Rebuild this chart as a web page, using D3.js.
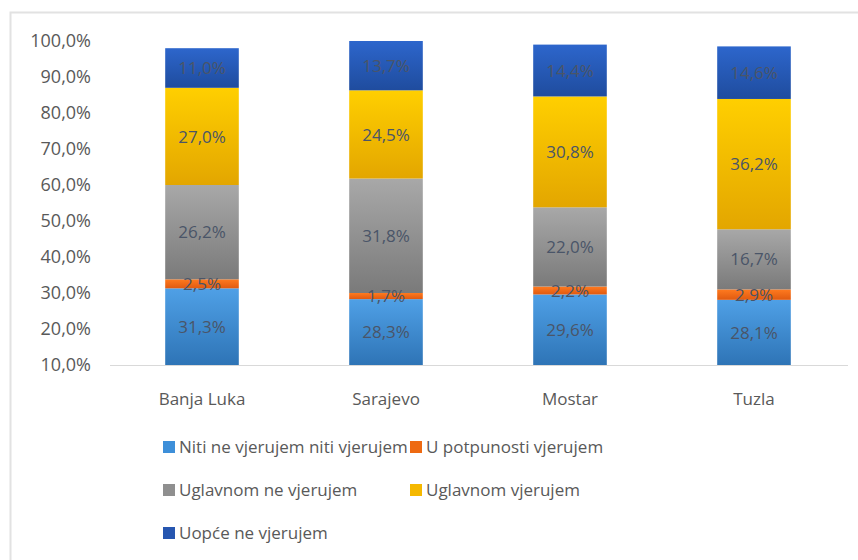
<!DOCTYPE html>
<html>
<head>
<meta charset="utf-8">
<script src="https://cdn.jsdelivr.net/npm/d3@7"></script>
<style>
    body { margin: 0; background: #fff; }
    text { font-family: "Open Sans", "Noto Sans", sans-serif; }
</style>
</head>
<body>
<div id="chart"></div>
<script>
// categories and series (percent)
let cities = ["Banja Luka", "Sarajevo", "Mostar", "Tuzla"];
let seriesNames = [
    "Niti ne vjerujem niti vjerujem",
    "U potpunosti vjerujem",
    "Uglavnom ne vjerujem",
    "Uglavnom vjerujem",
    "Uopće ne vjerujem"
];
let nitiNiti = [31.3, 28.3, 29.6, 28.1];
let uPotpunosti = [2.5, 1.7, 2.2, 2.9];
let uglavnomNe = [26.2, 31.8, 22.0, 16.7];
let uglavnomDa = [27.0, 24.5, 30.8, 36.2];
let uopceNe = [11.0, 13.7, 14.4, 14.6];
let yTicks = [10, 20, 30, 40, 50, 60, 70, 80, 90, 100];

let seriesValues = [nitiNiti, uPotpunosti, uglavnomNe, uglavnomDa, uopceNe];
// top / bottom gradient colours for each series
let colors = [
    ["#4fa0e6", "#2e74b6"],
    ["#ff7a1f", "#e05a10"],
    ["#a8a8a8", "#7a7a7a"],
    ["#ffcf00", "#e3a600"],
    ["#2d66cc", "#1f4c9e"]
];
let legendColors = ["#3d8fd9", "#ee6a12", "#8f8f8f", "#f5b800", "#2656b0"];

let width = 858, height = 560;

let svg = d3.select("#chart").append("svg")
    .attr("width", width)
    .attr("height", height);

// outer frame
svg.append("path")
    .attr("d", "M10.5," + height + "V12.5H" + width)
    .attr("fill", "none")
    .attr("stroke", "#e2e2e2")
    .attr("stroke-width", 2);

let x = d3.scaleBand()
    .domain(cities)
    .range([110, 846])
    .paddingInner(0.6)
    .paddingOuter(0.3);

let y = d3.scaleLinear()
    .domain([10, 100])
    .range([365, 41]);

// gradients
let defs = svg.append("defs");
colors.forEach(function (c, i) {
    let g = defs.append("linearGradient")
        .attr("id", "grad" + i)
        .attr("x1", 0).attr("y1", 0)
        .attr("x2", 0).attr("y2", 1);
    g.append("stop").attr("offset", "0%").attr("stop-color", c[0]);
    g.append("stop").attr("offset", "100%").attr("stop-color", c[1]);
});

// y axis labels
let yAxis = d3.axisLeft(y)
    .tickValues(yTicks)
    .tickSize(0)
    .tickPadding(0)
    .tickFormat(d => d3.format(".1f")(d).replace(".", ",") + "%");

svg.append("g")
    .attr("transform", "translate(91,0)")
    .call(yAxis)
    .call(g => g.select(".domain").remove())
    .selectAll("text")
    .attr("fill", "#595959")
    .style("font-size", "18px");

// stack data
let table = cities.map(function (c, i) {
    let row = { city: c };
    seriesNames.forEach(function (s, j) { row[s] = seriesValues[j][i]; });
    return row;
});
let stacked = d3.stack().keys(seriesNames)(table);

let fmt = v => d3.format(".1f")(v).replace(".", ",") + "%";

stacked.forEach(function (layer, li) {
    let g = svg.append("g").attr("class", "series");
    g.selectAll("rect")
        .data(layer)
        .enter().append("rect")
        .attr("x", d => x(d.data.city))
        .attr("width", x.bandwidth())
        .attr("y", d => y(d[1]))
        .attr("height", d => y(Math.max(d[0], 10)) - y(d[1]))
        .attr("fill", "url(#grad" + li + ")");
});

// baseline
svg.append("line")
    .attr("x1", 110).attr("x2", 848)
    .attr("y1", y(10) + 0.5).attr("y2", y(10) + 0.5)
    .attr("stroke", "#d9d9d9");

// value labels
stacked.forEach(function (layer, li) {
    svg.append("g").selectAll("text")
        .data(layer)
        .enter().append("text")
        .attr("x", d => x(d.data.city) + x.bandwidth() / 2)
        .attr("y", d => (y(Math.max(d[0], 10)) + y(d[1])) / 2)
        .attr("dy", "0.36em")
        .attr("text-anchor", "middle")
        .attr("fill", "#4a5568")
        .style("font-size", "17px")
        .text(d => fmt(d.data[seriesNames[li]]));
});

// category labels
svg.append("g").selectAll("text")
    .data(cities)
    .enter().append("text")
    .attr("x", d => x(d) + x.bandwidth() / 2)
    .attr("y", 399)
    .attr("dy", "0.36em")
    .attr("text-anchor", "middle")
    .attr("fill", "#595959")
    .style("font-size", "17px")
    .text(d => d);

// legend
let legendPos = [[163, 447], [410, 447], [163, 490], [410, 490], [163, 533]];
let legend = svg.append("g").selectAll("g")
    .data(seriesNames)
    .enter().append("g")
    .attr("transform", (d, i) => "translate(" + legendPos[i][0] + "," + legendPos[i][1] + ")");

legend.append("rect")
    .attr("x", 0).attr("y", -6)
    .attr("width", 12).attr("height", 12)
    .attr("fill", (d, i) => legendColors[i]);

legend.append("text")
    .attr("x", 16)
    .attr("dy", "0.36em")
    .attr("fill", "#595959")
    .style("font-size", "17px")
    .text(d => d);
</script>
</body>
</html>
